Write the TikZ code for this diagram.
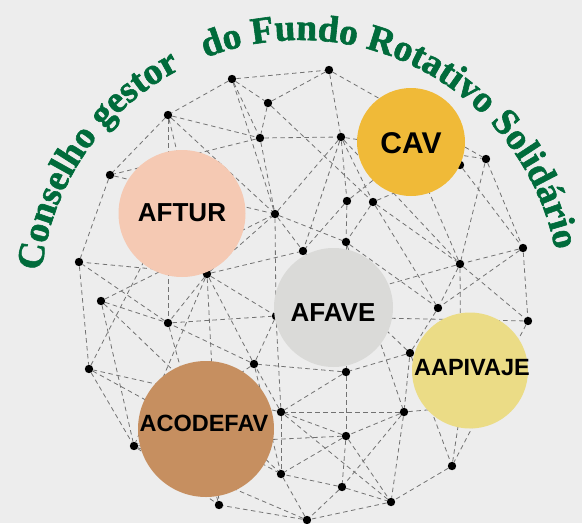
\documentclass[tikz,border=0pt]{standalone}
\usepackage{fontspec}
\newfontfamily\labelsans{Liberation Sans}
\newfontfamily\titleserif{Liberation Serif Bold}[FakeBold=1.6]
\usetikzlibrary{decorations.text}

\definecolor{bgpaper}{HTML}{EDEDED}
\definecolor{fundogreen}{HTML}{006B3B}
\definecolor{linkgray}{HTML}{727272}
\definecolor{afturpeach}{HTML}{F5C9B3}
\definecolor{cavgold}{HTML}{F0BA38}
\definecolor{afavegray}{HTML}{DADAD8}
\definecolor{aapyellow}{HTML}{EBDC86}
\definecolor{acodebrown}{HTML}{C68F60}

\pgfdeclarelayer{paper}
\pgfdeclarelayer{links}
\pgfsetlayers{paper,links,main}

\newlength\titlewidth

\begin{document}
\settowidth{\titlewidth}{\titleserif\fontsize{10}{12}\selectfont do Fundo Rotativo Solidário}
\pgfmathsetmacro\titlesize{10*455/\titlewidth}
\begin{tikzpicture}[
  x=1pt, y=-1pt,
  dot/.style={circle, fill=black, inner sep=0pt, minimum size=8.4pt},
  link/.style={draw=linkgray, line width=0.8pt, dash pattern=on 4.5pt off 3.5pt},
  member/.style={circle, inner sep=0pt, draw=none},
  memberlabel/.style={font=\labelsans\bfseries\fontsize{#1}{#1}\selectfont, text=black, inner sep=0pt}
]
\begin{pgfonlayer}{paper}
\fill[bgpaper] (0,0) rectangle (582,523);
\end{pgfonlayer}
\useasboundingbox (0,0) rectangle (582,523);

% Network dots
\node[dot] (d1) at (232,79) {};
\node[dot] (d2) at (329,70) {};
\node[dot] (d3) at (168,115) {};
\node[dot] (d4) at (268,103) {};
\node[dot] (d5) at (260,138) {};
\node[dot] (d6) at (341,137) {};
\node[dot] (d7) at (110,175) {};
\node[dot] (d8) at (275,214) {};
\node[dot] (d9) at (347,201) {};
\node[dot] (d10) at (373,202) {};
\node[dot] (d11) at (460,165) {};
\node[dot] (d12) at (486,159) {};
\node[dot] (d13) at (523,248) {};
\node[dot] (d14) at (460,264) {};
\node[dot] (d15) at (346,242) {};
\node[dot] (d16) at (303,251) {};
\node[dot] (d17) at (438,308) {};
\node[dot] (d18) at (528,321) {};
\node[dot] (d19) at (410,353) {};
\node[dot] (d20) at (346,372) {};
\node[dot] (d21) at (404,412) {};
\node[dot] (d22) at (346,436) {};
\node[dot] (d23) at (452,466) {};
\node[dot] (d24) at (342,487) {};
\node[dot] (d25) at (391,502) {};
\node[dot] (d26) at (307,520) {};
\node[dot] (d27) at (281,412) {};
\node[dot] (d28) at (281,474) {};
\node[dot] (d29) at (254,364) {};
\node[dot] (d30) at (219,505) {};
\node[dot] (d31) at (134,446) {};
\node[dot] (d32) at (89,369) {};
\node[dot] (d33) at (101,301) {};
\node[dot] (d34) at (168,323) {};
\node[dot] (d35) at (207,274) {};
\node[dot] (d36) at (79,262) {};
\node[dot] (d37) at (276,316) {};

% Hubs hidden behind the circles
\coordinate (cavhub) at (411,150);
\coordinate (afturhub) at (165,220);
\coordinate (aaphub) at (461,407);

% Dashed links
\begin{pgfonlayer}{links}
\draw[link] (d1) edge (d2) edge (d3) edge (d4) edge (d5) edge (d8);
\draw[link] (d2) edge (d4) edge (d6) edge (d12);
\draw[link] (d3) edge (d5) edge (d7) edge (d8) edge (d34) edge (d35);
\draw[link] (d4) edge (d5) edge (d10);
\draw[link] (d5) edge (d6) edge (d7) edge (d8);
\draw[link] (d6) edge (d8) edge (d9) edge (d10) edge (d12) edge (d14) edge (d16);
\draw[link] (d7) edge (d8) edge (d36);
\draw[link] (d8) edge (d15) edge (d16) edge (d37);
\draw[link] (d9) edge (d15) edge (d16) edge (cavhub);
\draw[link] (d10) edge (d11) edge (d14) edge (d15) edge (d17);
\draw[link] (d11) edge (d13);
\draw[link] (d12) edge (d13) edge (d14);
\draw[link] (d13) edge (d14) edge (d18) edge (d17);
\draw[link] (d14) edge (d18) edge (d17) edge (d37) edge (aaphub) edge (cavhub);
\draw[link] (d15) edge (d17) edge (d20) edge (d21);
\draw[link] (d17) edge (d19);
\draw[link] (d18) edge (d37) edge (d23);
\draw[link] (d19) edge (d20) edge (d21) edge (d23) edge (d16);
\draw[link] (d20) edge (d29) edge (d22) edge (d27);
\draw[link] (d21) edge (d22) edge (d27) edge (d25) edge (d24) edge (aaphub);
\draw[link] (d22) edge (d24) edge (d28) edge (d27) edge (d31) edge (d25);
\draw[link] (d23) edge (d25) edge (aaphub);
\draw[link] (d24) edge (d25) edge (d26) edge (d28);
\draw[link] (d25) edge (d26) edge (d27);
\draw[link] (d26) edge (d28) edge (d30) edge (d31);
\draw[link] (d27) edge (d28) edge (d37) edge (d29) edge (d32);
\draw[link] (d29) edge (d34) edge (d35) edge (d31) edge (d28) edge (d37);
\draw[link] (d35) edge (d36) edge (d34) edge (d30) edge (d31) edge (d37) edge (d16) edge (d8);
\draw[link] (d34) edge (d36) edge (d30) edge (d37);
\draw[link] (d33) edge (d8) edge (d34) edge (d31) edge (d28);
\draw[link] (d36) edge (d32);
\draw[link] (d32) edge (afturhub) edge (d31) edge (d28);
\draw[link] (d31) edge (d30);
\end{pgfonlayer}

% Member circles
\node[member, fill=afturpeach, minimum size=127pt] (aftur) at (182,213.5) {};
\node[member, fill=cavgold, minimum size=108pt] (cav) at (411,142) {};
\node[member, fill=afavegray, minimum size=119pt] (afave) at (333.5,307.5) {};
\node[member, fill=aapyellow, minimum size=116pt] (aapivaje) at (470,370.5) {};
\node[member, fill=acodebrown, minimum size=136pt] (acodefav) at (206,429) {};

\node[memberlabel=26] (afturtext) at (182,212.5) {AFTUR};
\node[memberlabel=30] (cavtext) at (411,143.5) {CAV};
\node[memberlabel=26] (afavetext) at (333,313) {AFAVE};
\node[memberlabel=23.5] (aapivajetext) at (472,367.5) {AAPIVAJE};
\node[memberlabel=23.5] (acodefavtext) at (204,423.5) {ACODEFAV};

% Curved title
\coordinate (titlehub) at (300,300);
\path[decorate, decoration={text along path, text align=left,
  text={|\titleserif\fontsize{\titlesize}{\titlesize}\selectfont\color{fundogreen}|Conselho gestor}}]
  ([shift={(-173.6:260)}]titlehub) arc[start angle=-173.6, end angle=-105, radius=260];
\path[decorate, decoration={text along path, text align=left,
  text={|\titleserif\fontsize{\titlesize}{\titlesize}\selectfont\color{fundogreen}|do Fundo Rotativo Solidário}}]
  ([shift={(-111.3:260)}]titlehub) arc[start angle=-111.3, end angle=-3, radius=260];
\end{tikzpicture}
\end{document}
